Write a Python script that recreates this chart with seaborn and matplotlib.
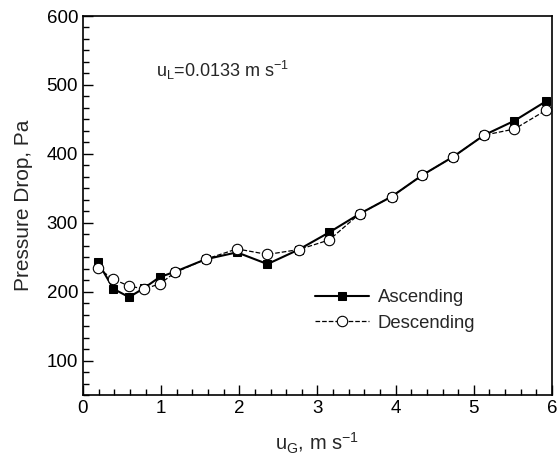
import numpy as np
import pandas as pd
import seaborn as sns
import matplotlib
matplotlib.use("Agg")
import matplotlib.pyplot as plt
from matplotlib.ticker import MultipleLocator, AutoMinorLocator

sns.set_style("white")
plt.rcParams['font.family'] = ['Liberation Sans', 'DejaVu Sans']
plt.rcParams['mathtext.fontset'] = 'custom'
plt.rcParams['mathtext.rm'] = 'Liberation Sans'
plt.rcParams['mathtext.it'] = 'Liberation Sans'

# gas velocity, m/s
u_gas = [0.19, 0.39, 0.59, 0.78, 0.98, 1.18, 1.57, 1.97, 2.36, 2.76,
         3.15, 3.54, 3.95, 4.34, 4.74, 5.13, 5.52, 5.92]
# pressure drop, Pa
dp_ascending = [243, 204, 192, 205, 221, 229, 247, 257, 240, 261,
                286, 313, 338, 369, 396, 427, 448, 476]
dp_descending = [234, 218, 208, 204, 211, 228, 247, 262, 254, 261,
                 275, 313, 338, 369, 396, 427, 436, 463]

df_asc = pd.DataFrame({'u': u_gas, 'dp': dp_ascending})
df_desc = pd.DataFrame({'u': u_gas, 'dp': dp_descending})

fig = plt.figure(figsize=(5.58, 4.55), dpi=100)
ax = fig.add_axes([0.1487, 0.1319, 0.8405, 0.8329])

sns.lineplot(data=df_asc, x='u', y='dp', ax=ax, sort=False, color='black',
             linestyle='-', linewidth=1.5, marker='s', markersize=6,
             markerfacecolor='black', markeredgecolor='black',
             label='Ascending', zorder=2)
sns.lineplot(data=df_desc, x='u', y='dp', ax=ax, sort=False, color='black',
             linestyle='--', linewidth=0.9, marker='o', markersize=7.5,
             markerfacecolor='white', markeredgecolor='black', markeredgewidth=0.8,
             label='Descending', zorder=3)

ax.set_xlim(0, 6)
ax.set_ylim(50, 600)
ax.xaxis.set_major_locator(MultipleLocator(1))
ax.xaxis.set_minor_locator(AutoMinorLocator(5))
ax.yaxis.set_major_locator(MultipleLocator(100))
ax.yaxis.set_minor_locator(AutoMinorLocator(6))
ax.tick_params(which='both', direction='in', left=True, bottom=True,
               top=False, right=False, labelsize=13.5, colors='black')
ax.tick_params(which='major', length=7, width=1)
ax.tick_params(which='minor', length=4, width=1)
for s in ax.spines.values():
    s.set_color('black')
    s.set_linewidth(1.2)

ax.set_xlabel(r'u$_{\rm G}$, m s$^{-1}$', fontsize=14.5, labelpad=10)
ax.set_ylabel('Pressure Drop, Pa', fontsize=15, labelpad=10)

ax.text(0.156, 0.84, r'u$_{\rm L}$=0.0133 m s$^{-1}$', transform=ax.transAxes,
        fontsize=13, va='baseline', ha='left')

ax.legend(loc='center left', bbox_to_anchor=(0.495, 0.223), frameon=False,
          fontsize=13.3, handlelength=2.9, handletextpad=0.5,
          labelspacing=0.45, borderpad=0, borderaxespad=0)

fig.savefig('out.png', dpi=100)
